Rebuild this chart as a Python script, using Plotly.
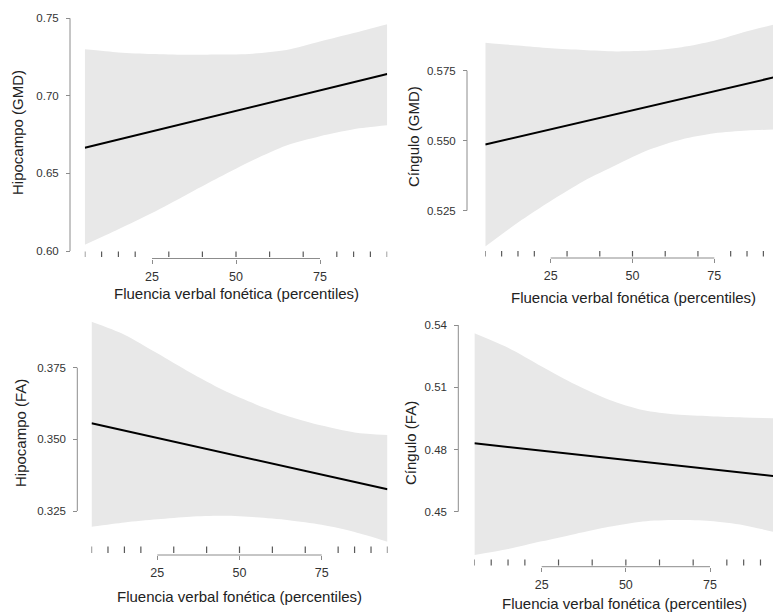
import plotly.graph_objects as go

W, H = 773, 613

# ---------------- data ----------------
x_grid = [5, 15, 25, 35, 45, 55, 65, 75, 85, 95]
x_line = [5, 95]
rug_x = [5, 10, 15, 20, 30, 40, 50, 60, 70, 80, 85, 90, 95]
x_ticks = [25, 50, 75]
x_title = "Fluencia verbal fonética (percentiles)"

hip_gmd_upper = [0.7300, 0.7280, 0.7270, 0.7265, 0.7266, 0.7272, 0.7295, 0.7350, 0.7405, 0.7462]
hip_gmd_lower = [0.6040, 0.6140, 0.6245, 0.6360, 0.6475, 0.6585, 0.6680, 0.6740, 0.6785, 0.6810]
hip_gmd_fit = [0.6666, 0.7141]
hip_gmd_ticks = [0.60, 0.65, 0.70, 0.75]
hip_gmd_ticktext = ["0.60", "0.65", "0.70", "0.75"]

cin_gmd_upper = [0.5850, 0.5840, 0.5830, 0.5824, 0.5819, 0.5822, 0.5834, 0.5857, 0.5891, 0.5920]
cin_gmd_lower = [0.5121, 0.5207, 0.5284, 0.5355, 0.5413, 0.5467, 0.5504, 0.5526, 0.5536, 0.5540]
cin_gmd_fit = [0.5486, 0.5731]
cin_gmd_ticks = [0.525, 0.550, 0.575]
cin_gmd_ticktext = ["0.525", "0.550", "0.575"]

hip_fa_upper = [0.3910, 0.3865, 0.3800, 0.3733, 0.3672, 0.3622, 0.3580, 0.3548, 0.3524, 0.3515]
hip_fa_lower = [0.3195, 0.3210, 0.3221, 0.3230, 0.3233, 0.3228, 0.3218, 0.3202, 0.3177, 0.3143]
hip_fa_fit = [0.3556, 0.3326]
hip_fa_ticks = [0.325, 0.350, 0.375]
hip_fa_ticktext = ["0.325", "0.350", "0.375"]

cin_fa_upper = [0.5360, 0.5290, 0.5200, 0.5113, 0.5040, 0.4990, 0.4968, 0.4960, 0.4954, 0.4950]
cin_fa_lower = [0.4291, 0.4320, 0.4357, 0.4393, 0.4427, 0.4453, 0.4460, 0.4455, 0.4435, 0.4398]
cin_fa_fit = [0.4830, 0.4670]
cin_fa_ticks = [0.45, 0.48, 0.51, 0.54]
cin_fa_ticktext = ["0.45", "0.48", "0.51", "0.54"]

# ---------------- layout (pixel geometry) ----------------
panels = [
    dict(ytitle="Hipocampo (GMD)", upper=hip_gmd_upper, lower=hip_gmd_lower, fit=hip_gmd_fit,
         yticks=hip_gmd_ticks, yticktext=hip_gmd_ticktext,
         x25=152.0, x75=320.0, yhi_px=18.3, ylo_px=251.0,
         left=84.8, right=387.2, top=8, bottom=258.5, yaxis_px=70,
         rug=(251.5, 257), ytitle_pos=(18, 133), xtitle_pos=(236, 293)),
    dict(ytitle="Cíngulo (GMD)", upper=cin_gmd_upper, lower=cin_gmd_lower, fit=cin_gmd_fit,
         yticks=cin_gmd_ticks, yticktext=cin_gmd_ticktext,
         x25=550.7, x75=714.3, yhi_px=70.7, ylo_px=210.5,
         left=485.3, right=773, top=8, bottom=258.0, yaxis_px=467,
         rug=(251, 256.5), ytitle_pos=(413, 137), xtitle_pos=(633, 297)),
    dict(ytitle="Hipocampo (FA)", upper=hip_fa_upper, lower=hip_fa_lower, fit=hip_fa_fit,
         yticks=hip_fa_ticks, yticktext=hip_fa_ticktext,
         x25=157.3, x75=321.7, yhi_px=367.7, ylo_px=511.0,
         left=91.5, right=387.5, top=312, bottom=555.0, yaxis_px=77.3,
         rug=(546.5, 553), ytitle_pos=(20, 433), xtitle_pos=(239, 596)),
    dict(ytitle="Cíngulo (FA)", upper=cin_fa_upper, lower=cin_fa_lower, fit=cin_fa_fit,
         yticks=cin_fa_ticks, yticktext=cin_fa_ticktext,
         x25=541.7, x75=710.0, yhi_px=325.0, ylo_px=511.7,
         left=474.4, right=773, top=318, bottom=566.7, yaxis_px=458.3,
         rug=(559.5, 565.5), ytitle_pos=(410, 443), xtitle_pos=(624, 603.5)),
]

FONT = "Liberation Sans, Arial, sans-serif"
BAND = "rgb(232,232,232)"
AXIS = "#8c8c8c"


def fx(p):
    return p / W


def fy(p):
    return 1 - p / H


fig = go.Figure()
shapes = []
annotations = []

for i, p in enumerate(panels, start=1):
    sfx = "" if i == 1 else str(i)
    xr, yr = "x" + sfx, "y" + sfx

    def x_at(px, p=p):
        return 25 + (px - p["x25"]) * 50.0 / (p["x75"] - p["x25"])

    vlo, vhi = p["yticks"][0], p["yticks"][-1]

    def y_at(px, p=p, vlo=vlo, vhi=vhi):
        return vhi - (px - p["yhi_px"]) * (vhi - vlo) / (p["ylo_px"] - p["yhi_px"])

    # confidence band (lower edge, then upper edge filled down to it)
    fig.add_trace(go.Scatter(
        x=x_grid, y=p["lower"], mode="lines",
        line=dict(width=0, color=BAND, shape="spline", smoothing=0.8),
        xaxis=xr, yaxis=yr, hoverinfo="skip", showlegend=False))
    fig.add_trace(go.Scatter(
        x=x_grid, y=p["upper"], mode="lines", fill="tonexty", fillcolor=BAND,
        line=dict(width=0, color=BAND, shape="spline", smoothing=0.8),
        xaxis=xr, yaxis=yr, hoverinfo="skip", showlegend=False))
    # regression line
    fig.add_trace(go.Scatter(
        x=x_line, y=p["fit"], mode="lines", line=dict(color="black", width=2),
        xaxis=xr, yaxis=yr, showlegend=False))

    fig.update_layout(**{
        "xaxis" + sfx: dict(
            domain=[fx(p["left"]), fx(p["right"])],
            range=[x_at(p["left"]), x_at(p["right"])],
            anchor=yr, tickmode="array", tickvals=x_ticks,
            ticktext=[str(t) for t in x_ticks],
            ticks="outside", ticklen=4, tickwidth=1, tickcolor=AXIS,
            ticklabelstandoff=2,
            showline=False, showgrid=False, zeroline=False,
            tickfont=dict(family=FONT, size=12.5, color="#333333")),
        "yaxis" + sfx: dict(
            domain=[fy(p["bottom"]), fy(p["top"])],
            range=[y_at(p["bottom"]), y_at(p["top"])],
            anchor="free", position=fx(p["yaxis_px"]),
            tickmode="array", tickvals=p["yticks"], ticktext=p["yticktext"],
            ticks="outside", ticklen=4, tickwidth=1, tickcolor=AXIS,
            ticklabelstandoff=5,
            showline=False, showgrid=False, zeroline=False,
            tickfont=dict(family=FONT, size=11.5, color="#333333")),
    })

    # axis lines spanning only the tick range
    shapes.append(dict(type="line", xref=xr, yref="paper",
                       x0=x_ticks[0], x1=x_ticks[-1],
                       y0=fy(p["bottom"]), y1=fy(p["bottom"]),
                       line=dict(color=AXIS, width=1)))
    shapes.append(dict(type="line", xref="paper", yref=yr,
                       x0=fx(p["yaxis_px"]), x1=fx(p["yaxis_px"]),
                       y0=vlo, y1=vhi, line=dict(color=AXIS, width=1)))
    # rug
    for rx in rug_x:
        shapes.append(dict(type="line", xref=xr, yref="paper",
                           x0=rx, x1=rx, y0=fy(p["rug"][1]), y1=fy(p["rug"][0]),
                           line=dict(color="#5a5a5a", width=1.2)))

    annotations.append(dict(text=p["ytitle"], xref="paper", yref="paper",
                            x=fx(p["ytitle_pos"][0]), y=fy(p["ytitle_pos"][1]),
                            textangle=-90, showarrow=False,
                            xanchor="center", yanchor="middle",
                            font=dict(family=FONT, size=15, color="#222222")))
    annotations.append(dict(text=x_title, xref="paper", yref="paper",
                            x=fx(p["xtitle_pos"][0]), y=fy(p["xtitle_pos"][1]),
                            showarrow=False, xanchor="center", yanchor="middle",
                            font=dict(family=FONT, size=15, color="#222222")))

fig.update_layout(
    width=W, height=H,
    margin=dict(l=0, r=0, t=0, b=0),
    paper_bgcolor="white", plot_bgcolor="white",
    showlegend=False, hovermode=False,
    shapes=shapes, annotations=annotations,
    font=dict(family=FONT),
)

fig.write_html("out.html")
